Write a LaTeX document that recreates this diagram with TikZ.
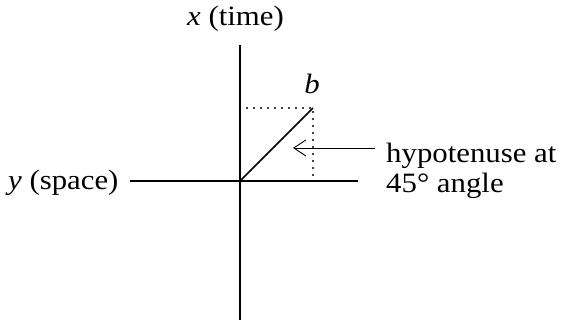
\documentclass[tikz,border=0pt]{standalone}
\usepackage{fontspec}
\setmainfont{Liberation Serif}[FakeStretch=1.1]
\usetikzlibrary{arrows.meta}
\tikzset{
  lbl/.style={inner sep=0pt, font=\fontsize{28}{32}\selectfont},
  axis/.style={line width=2.4pt},
  hyp/.style={line width=1.6pt},
  dots/.style={line width=2.2pt, line cap=round, dash pattern=on 0pt off 7pt},
  pointer/.style={line width=0.9pt, -{Straight Barb[length=12pt,width=16pt,line width=0.9pt]}}
}
\begin{document}
\begin{tikzpicture}[x=1pt,y=-1pt]
\useasboundingbox (0,0) rectangle (566,320);
\coordinate (vtop) at (240,45);
\coordinate (vbot) at (240,320);
\coordinate (hl) at (130,181);
\coordinate (hr) at (358,181);
\coordinate (O) at (240,181);
\coordinate (B) at (313,108);
\coordinate (Bl) at (240,108);
\coordinate (Bx) at (313,181);
\coordinate (A) at (375,148);
\coordinate (T) at (293,148);
\draw[axis] (vtop) -- (vbot);
\draw[axis] (hl) -- (hr);
\draw[hyp] (O) -- (B);
\draw[dots] (Bl) -- (B) -- (Bx);
\draw[pointer] (A) -- (T);
\node[lbl, anchor=base west] (xl) at (187,26) {\textit{x} (time)};
\node[lbl, anchor=base west] (yl) at (8,190) {\textit{y} (space)};
\node[lbl, anchor=base] (bl) at (312,94) {\textit{b}};
\node[lbl, anchor=base west] (h1) at (386,163) {hypotenuse at};
\node[lbl, anchor=base west] (h2) at (386,193) {45° angle};
\end{tikzpicture}
\end{document}
